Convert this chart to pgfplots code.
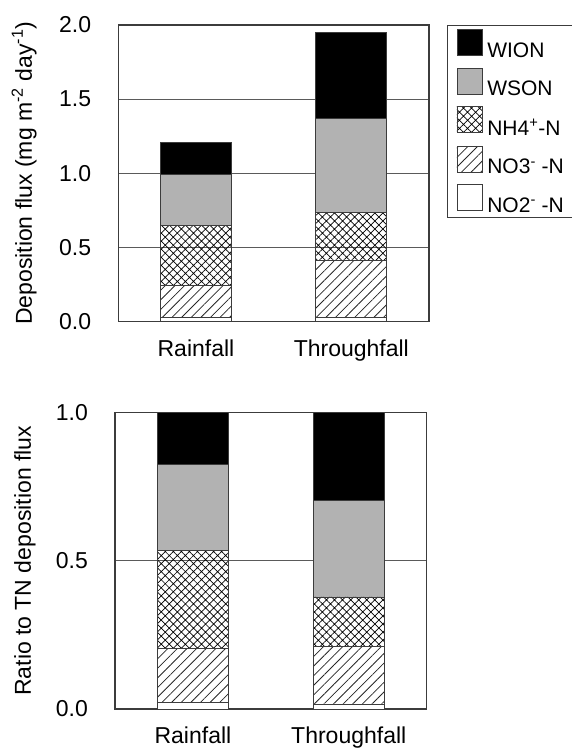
\documentclass[border=0pt]{standalone}
\usepackage{fontspec}
\setmainfont{Liberation Sans}
\usepackage{pgfplots}
\pgfplotsset{compat=1.18}
\usetikzlibrary{patterns.meta}
\definecolor{barg}{RGB}{178,178,178}
\definecolor{axg}{RGB}{60,60,60}
\definecolor{grd}{RGB}{90,90,90}

\pgfplotsset{
  panel/.style={
    scale only axis,
    anchor=south west,
    ybar stacked,
    bar width=71pt,
    xmin=0.5, xmax=2.5,
    ymin=0,
    xtick={1,2},
    xticklabels={Rainfall,Throughfall},
    major tick length=0pt,
    ymajorgrids,
    grid style={grd, line width=0.9pt},
    axis line style={axg, line width=1.3pt},
    tick label style={font=\fontsize{23}{27}\selectfont, inner sep=0pt},
    label style={font=\fontsize{23}{27}\selectfont, inner sep=0pt},
    xticklabel style={yshift=-18pt},
    yticklabel style={xshift=-27pt},
    /pgf/number format/.cd, fixed, fixed zerofill, precision=1, assume math mode=true,
  },
  seg/.style={draw=axg, line width=0.8pt,
    legend image code/.code={\draw[##1] (0pt,-5pt) rectangle (25pt,21pt);}},
  sNOtwo/.style={seg, fill=white},
  sNOthree/.style={seg, pattern={Lines[angle=45,distance=6.8pt,line width=0.8pt]}, pattern color=black!85},
  sNH/.style={seg, pattern={Hatch[angle=45,distance=5.7pt,line width=0.7pt]}, pattern color=black},
  sWSON/.style={seg, fill=barg},
  sWION/.style={seg, fill=black},
}

\begin{document}
\begin{tikzpicture}
\useasboundingbox (0pt,0pt) rectangle (572pt,749pt);

% deposition flux
\begin{axis}[panel,
  at={(118.3pt,427.3pt)}, width=310.7pt, height=296.7pt,
  ymax=2, ytick={0,0.5,1,1.5,2},
  ylabel={Deposition flux (mg m\textsuperscript{-2} day\textsuperscript{-1})},
  ylabel style={at={(axis description cs:-0.262,0.5)}, anchor=south},
  reverse legend,
  legend cell align=left,
  legend style={at={(rel axis cs:1.058,1)}, anchor=north west,
    draw=axg, line width=1pt, font=\fontsize{21}{24}\selectfont,
    row sep=9pt, inner xsep=9pt, inner ysep=4pt,
    nodes={inner sep=0pt},
    /tikz/every odd column/.append style={column sep=5pt}},
]
\addplot[sNOtwo] coordinates {(1,0.030) (2,0.030)};
\addplot[sNOthree] coordinates {(1,0.213) (2,0.380)};
\addplot[sNH] coordinates {(1,0.404) (2,0.325)};
\addplot[sWSON] coordinates {(1,0.347) (2,0.636)};
\addplot[sWION] coordinates {(1,0.213) (2,0.578)};
\legend{NO2\textsuperscript{-} -N, NO3\textsuperscript{-} -N, NH4\textsuperscript{+}-N, WSON, WION}
\end{axis}

% ratio to TN
\begin{axis}[panel,
  at={(115pt,40pt)}, width=311.7pt, height=296.3pt,
  ymax=1, ytick={0,0.5,1},
  ylabel={Ratio to TN deposition flux},
  ylabel style={at={(axis description cs:-0.254,0.5)}, anchor=south},
]
\addplot[sNOtwo] coordinates {(1,0.023) (2,0.017)};
\addplot[sNOthree] coordinates {(1,0.182) (2,0.195)};
\addplot[sNH] coordinates {(1,0.331) (2,0.166)};
\addplot[sWSON] coordinates {(1,0.289) (2,0.326)};
\addplot[sWION] coordinates {(1,0.175) (2,0.296)};
\end{axis}
\end{tikzpicture}
\end{document}
